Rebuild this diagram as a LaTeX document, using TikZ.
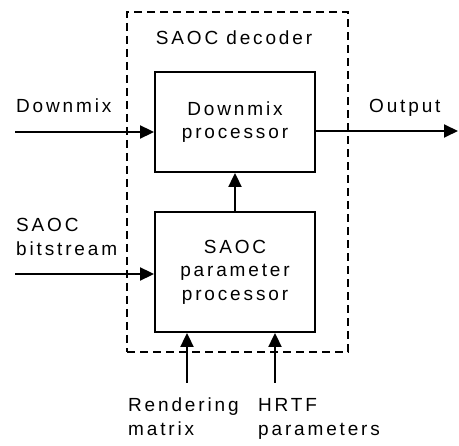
\documentclass[tikz,border=0pt]{standalone}
\usepackage{fontspec}
\setmainfont{Liberation Sans}[LetterSpace=15]
\usetikzlibrary{positioning,arrows.meta}
\tikzset{
  % processing block inside the decoder
  block/.style={draw,line width=1.9pt,minimum width=160pt,align=center,
    font=\fontsize{19}{23.5}\selectfont},
  % outer frame of the decoder
  frame/.style={draw,line width=1.6pt,dash pattern=on 8pt off 5pt,
    minimum width=221pt,minimum height=340pt},
  % plain text label
  lbl/.style={align=left,inner sep=0pt,font=\fontsize{19}{24}\selectfont},
  % signal arrow
  sig/.style={line width=2pt,-{Triangle[length=14pt,width=13pt]}},
}

\begin{document}
\begin{tikzpicture}[x=1pt,y=-1pt]
  \useasboundingbox (0,0) rectangle (459,446);

  \node[frame] (decoder) at (237.5,182) {};
  \node[lbl,anchor=north] (title) at (234,31) {SAOC decoder};

  \node[block,minimum height=100pt] (dmx) at (235,122) {Downmix\\processor};
  \node[block,minimum height=120pt] (par) at (235,272) {SAOC\\parameter\\processor};

  % free ends of the signals
  \coordinate (dmin) at (15,132);
  \coordinate (bsin) at (15,274);
  \coordinate (out) at (458,131);
  \coordinate (rmin) at (187,383);
  \coordinate (hrin) at (275,383);

  \node[lbl,anchor=north west] (dmxlbl) at (16,99) {Downmix};
  \node[lbl,anchor=north west] (outlbl) at (369,99) {Output};
  \node[lbl,anchor=north west] (bslbl) at (16,218) {SAOC\\bitstream};
  \node[lbl,anchor=north west] (rmlbl) at (128,398) {Rendering\\matrix};
  \node[lbl,anchor=north west] (hrlbl) at (258,398) {HRTF\\parameters};

  \draw[sig] (dmin) -- (dmin -| dmx.west);
  \draw[sig] (dmx.east |- out) -- (out);
  \draw[sig] (bsin) -- (bsin -| par.west);
  \draw[sig] (par.north) -- (dmx.south);
  \draw[sig] (rmin) -- (rmin |- par.south);
  \draw[sig] (hrin) -- (hrin |- par.south);
\end{tikzpicture}
\end{document}
